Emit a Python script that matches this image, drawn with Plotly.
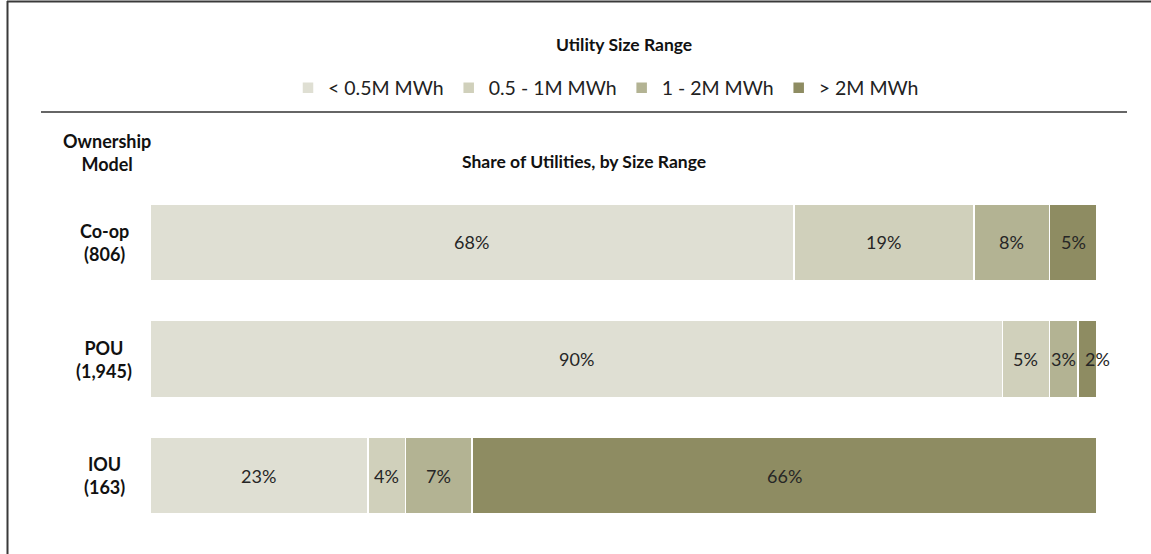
import plotly.graph_objects as go

categories = ["Co-op<br>(806)", "POU<br>(1,945)", "IOU<br>(163)"]
series_names = ["< 0.5M MWh", "0.5 - 1M MWh", "1 - 2M MWh", "> 2M MWh"]
lt_05 = [68, 90, 23]
r05_1 = [19, 5, 4]
r1_2 = [8, 3, 7]
gt_2 = [5, 2, 66]
colors = ["#DFDFD3", "#D0D0BB", "#B3B393", "#8E8C62"]

W, H = 1151, 554
ML, MR, MT, MB = 150, 54, 184, 20
PW, PH = W - ML - MR, H - MT - MB

def px(x):
    return (x - ML) / PW

def py(y):
    return (H - MB - y) / PH

series = [lt_05, r05_1, r1_2, gt_2]
FONT = "Lato, Calibri, Carlito, sans-serif"

fig = go.Figure()
for name, vals, col in zip(series_names, series, colors):
    fig.add_trace(go.Bar(
        y=categories, x=vals, name=name, orientation="h",
        marker=dict(color=col, line=dict(color="white", width=1.5)),
        width=0.66, hoverinfo="skip",
    ))

annotations = []
for ci, cat in enumerate(categories):
    cum = 0
    for si, vals in enumerate(series):
        v = vals[ci]
        mid = cum + v / 2
        shift = 0
        if v <= 2:
            shift = 10
        annotations.append(dict(
            x=mid, y=cat, xref="x", yref="y", text=f"{v}%", showarrow=False,
            xshift=shift, font=dict(family=FONT, size=18, color="#262626"),
        ))
        cum += v
    # category label, centred like the original
    annotations.append(dict(
        x=px(104), y=cat, xref="paper", yref="y", text=f"<b>{cat}</b>", showarrow=False,
        xanchor="center", yanchor="middle", align="center",
        font=dict(family=FONT, size=18, color="#111111"),
    ))

annotations += [
    dict(x=px(624), y=py(44), xref="paper", yref="paper", text="<b>Utility Size Range</b>",
         showarrow=False, xanchor="center", yanchor="middle",
         font=dict(family=FONT, size=17.5, color="#111111")),
    dict(x=px(584), y=py(162), xref="paper", yref="paper", text="<b>Share of Utilities, by Size Range</b>",
         showarrow=False, xanchor="center", yanchor="middle",
         font=dict(family=FONT, size=17.5, color="#111111")),
    dict(x=px(107), y=py(152), xref="paper", yref="paper", text="<b>Ownership<br>Model</b>",
         showarrow=False, xanchor="center", yanchor="middle",
         font=dict(family=FONT, size=18, color="#111111")),
]

shapes = [
    dict(type="line", xref="paper", yref="paper", x0=px(7), x1=px(1151), y0=py(1.5), y1=py(1.5),
         line=dict(color="#3a3a3a", width=2)),
    dict(type="line", xref="paper", yref="paper", x0=px(7.5), x1=px(7.5), y0=py(1), y1=py(554),
         line=dict(color="#3a3a3a", width=2)),
    dict(type="line", xref="paper", yref="paper", x0=px(41), x1=px(1127), y0=py(112), y1=py(112),
         line=dict(color="#333333", width=1.5)),
]

fig.update_layout(
    width=W, height=H,
    margin=dict(l=ML, r=MR, t=MT, b=MB),
    barmode="stack", bargap=0.34,
    plot_bgcolor="white", paper_bgcolor="white",
    showlegend=True,
    legend=dict(orientation="h", xref="container", yref="container",
                x=288 / W, y=1 - 88 / H, xanchor="left", yanchor="middle",
                font=dict(family=FONT, size=19.5, color="#222222"),
                itemwidth=30, traceorder="normal", itemclick=False),
    xaxis=dict(range=[0, 100], visible=False, fixedrange=True),
    yaxis=dict(autorange="reversed", showgrid=False, zeroline=False, showline=False,
               ticks="", showticklabels=False, fixedrange=True),
    annotations=annotations, shapes=shapes,
    font=dict(family=FONT),
)

fig.write_html("out.html", config={"displayModeBar": False},
               post_script="document.body.style.margin='0';document.body.style.overflow='hidden';")
